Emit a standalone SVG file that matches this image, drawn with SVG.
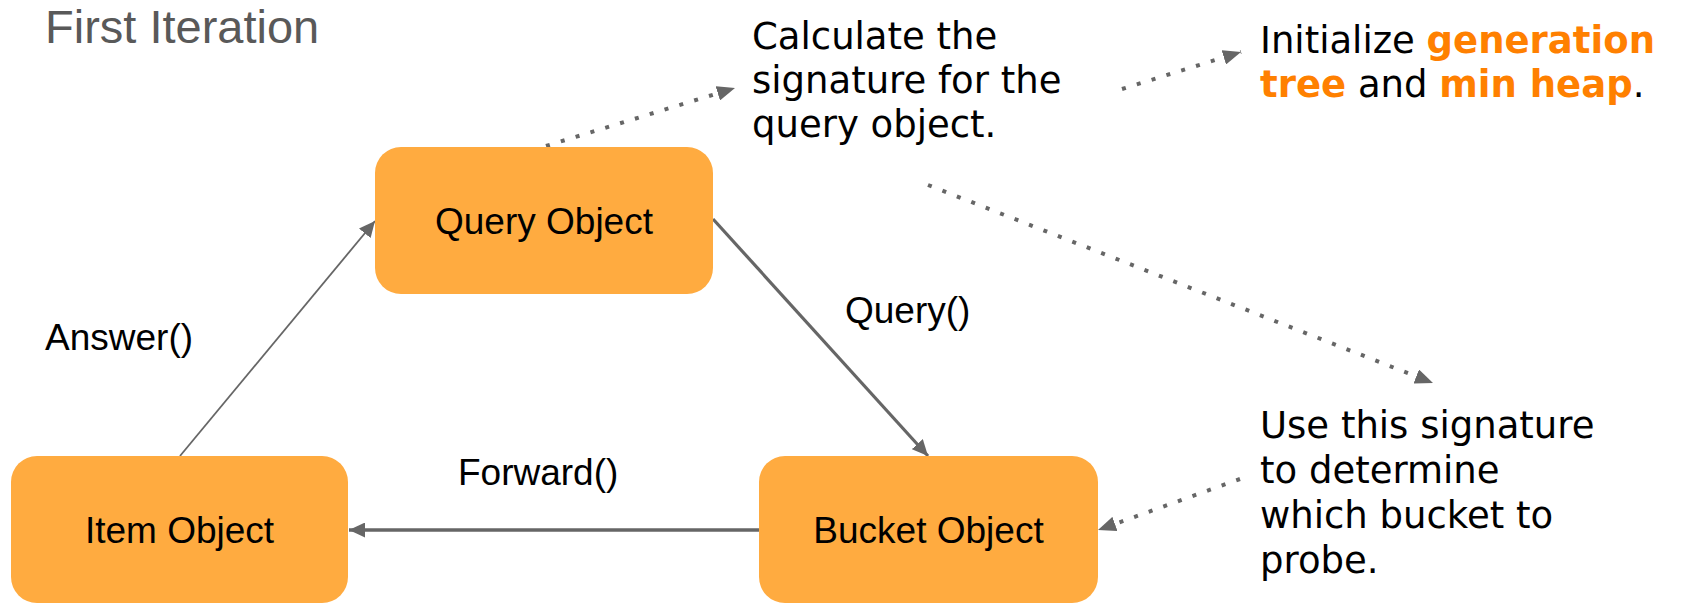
<svg xmlns="http://www.w3.org/2000/svg" width="1681" height="604" viewBox="0 0 1681 604">
<style>
.box{fill:#FFAB40;}
.nt{font-family:"Liberation Sans",Arial,sans-serif;font-size:37px;fill:#000;text-anchor:middle;}
.lbl{font-family:"Liberation Sans",Arial,sans-serif;font-size:37px;fill:#000;}
.note{font-family:"DejaVu Sans",Verdana,sans-serif;font-size:37px;fill:#000;}
.hl{font-weight:bold;fill:#FF8000;}
.solid{fill:none;stroke:#666666;}
.dot{fill:none;stroke:#666666;stroke-width:4;stroke-dasharray:4 11.5;}
</style>
<defs>
<marker id="ah" markerUnits="userSpaceOnUse" markerWidth="17" markerHeight="15" refX="16" refY="7.5" orient="auto">
<path d="M0,0 L16,7.5 L0,15 z" fill="#666666"/>
</marker>
<marker id="ahd" markerUnits="userSpaceOnUse" markerWidth="19" markerHeight="15" refX="18" refY="7.5" orient="auto">
<path d="M0,0 L18,7.5 L0,15 z" fill="#666666"/>
</marker>
</defs>
<text x="45" y="43" font-family="Liberation Sans, Arial, sans-serif" font-size="47" fill="#595959">First Iteration</text>
<g id="connectors">
<line class="solid" x1="180" y1="456" x2="375" y2="221" stroke-width="1.8" marker-end="url(#ah)"/>
<line class="solid" x1="713" y1="219" x2="928" y2="456" stroke-width="3.2" marker-end="url(#ah)"/>
<line class="solid" x1="759" y1="530" x2="349" y2="530" stroke-width="3.6" marker-end="url(#ah)"/>
<line class="dot" x1="546" y1="146" x2="735" y2="88" marker-end="url(#ahd)"/>
<line class="dot" x1="1122" y1="89" x2="1241" y2="52" marker-end="url(#ahd)"/>
<line class="dot" x1="928" y1="185" x2="1433" y2="383" marker-end="url(#ahd)"/>
<line class="dot" x1="1240" y1="479" x2="1098" y2="530" marker-end="url(#ahd)"/>
</g>
<g id="query-object">
<rect class="box" x="375" y="147" width="338" height="147" rx="26" ry="26"/>
<text class="nt" x="544" y="234">Query Object</text>
</g>
<g id="item-object">
<rect class="box" x="11" y="456" width="337" height="147" rx="26" ry="26"/>
<text class="nt" x="179.5" y="543">Item Object</text>
</g>
<g id="bucket-object">
<rect class="box" x="759" y="456" width="339" height="147" rx="26" ry="26"/>
<text class="nt" x="928.5" y="543">Bucket Object</text>
</g>
<g id="labels">
<text class="lbl" x="45" y="350">Answer()</text>
<text class="lbl" x="845" y="323">Query()</text>
<text class="lbl" x="458" y="485">Forward()</text>
</g>
<g id="note-calculate">
<text class="note" x="752" y="49">Calculate the</text>
<text class="note" x="752" y="93">signature for the</text>
<text class="note" x="752" y="137">query object.</text>
</g>
<g id="note-initialize">
<text class="note" x="1260" y="53">Initialize <tspan class="hl">generation</tspan></text>
<text class="note" x="1260" y="97"><tspan class="hl">tree</tspan> and <tspan class="hl">min heap</tspan>.</text>
</g>
<g id="note-use">
<text class="note" x="1260" y="438">Use this signature</text>
<text class="note" x="1260" y="483">to determine</text>
<text class="note" x="1260" y="528">which bucket to</text>
<text class="note" x="1260" y="573">probe.</text>
</g>
</svg>
